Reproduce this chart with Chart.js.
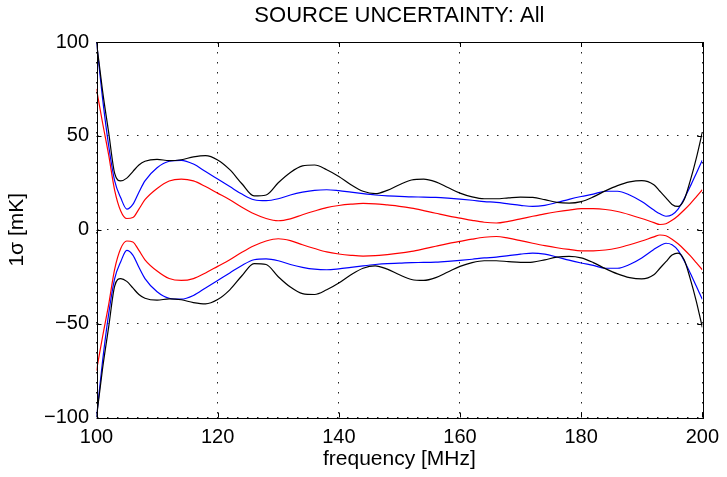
<!DOCTYPE html>
<html>
<head>
<meta charset="utf-8">
<script src="https://cdn.jsdelivr.net/npm/chart.js@4.4.1/dist/chart.umd.min.js"></script>
<style>
  html, body { margin: 0; padding: 0; background: #fff; }
  #wrap { width: 727px; height: 477px; position: relative; }
</style>
</head>
<body>
<div id="wrap"><canvas id="sigmaChart"></canvas></div>
<script>
// frequency grid [MHz]
const freq = [100, 101, 102, 103, 104, 105, 106, 107,
  108, 110, 112, 114, 116, 118, 120, 122, 124, 126,
  128, 130, 132, 134, 136, 138, 140, 142, 144, 146,
  148, 150, 152, 154, 156, 158, 160, 162, 164, 166,
  168, 170, 172, 174, 176, 178, 180, 182, 184, 186,
  188, 190, 192,
  193, 194, 195, 196, 197, 198, 199, 200];

// upper envelope (+1 sigma) in mK
const blackSigma = [100, 74, 52, 30, 26, 27.5, 31, 34.5,
  36.5, 37.5, 36.8, 37.3, 38.8, 39.5, 37.2, 32, 24.5, 18,
  18.5, 25, 30.5, 34, 34.5, 32, 28.4, 24, 20.5, 19.2,
  21, 24, 26.5, 27, 25.5, 22.5, 19.5, 17.5, 16.5, 16.5,
  17, 17.4, 17.2, 16, 14.6, 14.2, 15, 17.5, 20.7, 23.5,
  25.5, 26.2, 24,
  20.5, 17, 13.5, 12.4, 16, 26, 38, 52];

const blueSigma = [100, 70, 45, 26, 17, 11, 13.5, 20,
  26, 33, 36.5, 37, 35, 31, 27, 23, 19, 16,
  15.5, 16.5, 18.5, 20, 21, 21.3, 20.8, 20, 19.2, 18.5,
  18, 17.8, 17.5, 17.4, 17.2, 16.8, 16.3, 15.7, 15, 14.6,
  13.8, 13, 12.4, 13, 14.5, 16.2, 17.7, 19, 20.5, 20.5,
  18.5, 15, 10.5,
  8.5, 7.2, 8, 11, 16.5, 23, 30, 37];

const redSigma = [75, 57, 40, 21, 10, 6, 6.5, 11,
  16, 22, 26, 27, 26, 23, 19.5, 16, 12, 8.5,
  6, 4.8, 5.8, 8, 10, 11.8, 12.9, 13.6, 14, 13.8,
  13.2, 12.5, 11.5, 10.2, 8.8, 7.4, 6.2, 5, 4, 3.6,
  4.5, 5.8, 7.2, 8.5, 9.6, 10.5, 11.2, 11.2, 10.8, 9.7,
  8, 6, 3.8,
  2.8, 3.2, 5, 7.5, 10.5, 13.8, 17.5, 21.3];

const xTicks = [100, 120, 140, 160, 180, 200];
const yTicks = [-100, -50, 0, 50, 100];

const FONT = '"Liberation Sans", Arial, Helvetica, sans-serif';

// +sigma and the mirrored -sigma curve
const toPoints = (vals, sign) => freq.map((f, i) => ({ x: f, y: sign * vals[i] }));

const lineSet = (vals, sign, color) => ({
    data: toPoints(vals, sign),
    borderColor: color,
    borderWidth: 1.2,
    pointRadius: 0,
    fill: false,
    cubicInterpolationMode: 'monotone'
});

// MATLAB style box with inward ticks
const boxPlugin = {
    id: 'boxFrame',
    afterDatasetsDraw(chart) {
        const { ctx, chartArea: a, scales } = chart;
        const tl = 5;
        ctx.save();
        ctx.strokeStyle = '#000';
        ctx.lineWidth = 1;
        ctx.beginPath();
        xTicks.forEach(v => {
            const px = Math.round(scales.x.getPixelForValue(v)) + 0.5;
            ctx.moveTo(px, a.bottom); ctx.lineTo(px, a.bottom - tl);
            ctx.moveTo(px, a.top); ctx.lineTo(px, a.top + tl);
        });
        yTicks.forEach(v => {
            const py = Math.round(scales.y.getPixelForValue(v)) + 0.5;
            ctx.moveTo(a.left, py); ctx.lineTo(a.left + tl, py);
            ctx.moveTo(a.right, py); ctx.lineTo(a.right - tl, py);
        });
        ctx.stroke();
        ctx.strokeRect(Math.round(a.left) + 0.5, Math.round(a.top) + 0.5,
            Math.round(a.right - a.left), Math.round(a.bottom - a.top));
        ctx.restore();
    }
};

const ctx = document.getElementById('sigmaChart').getContext('2d');
new Chart(ctx, {
    type: 'line',
    data: {
        datasets: [
            lineSet(blackSigma, 1, '#000000'),
            lineSet(blackSigma, -1, '#000000'),
            lineSet(blueSigma, 1, '#0000ff'),
            lineSet(blueSigma, -1, '#0000ff'),
            lineSet(redSigma, 1, '#ff0000'),
            lineSet(redSigma, -1, '#ff0000')
        ]
    },
    options: {
        responsive: true,
        maintainAspectRatio: false,
        animation: false,
        layout: { padding: { left: 0, right: 22, top: 0, bottom: 0 } },
        plugins: {
            legend: { display: false },
            tooltip: { enabled: false },
            title: {
                display: true,
                text: 'SOURCE UNCERTAINTY: All',
                color: '#000',
                fullSize: false,
                font: { family: FONT, size: 22, weight: 'normal' },
                padding: { top: 3, bottom: 12.6 }
            }
        },
        scales: {
            x: {
                type: 'linear',
                min: 100,
                max: 200,
                afterFit: s => { s.height = 59.5; },
                afterBuildTicks: s => { s.ticks = xTicks.map(v => ({ value: v })); },
                ticks: { color: '#000', padding: 8, font: { family: FONT, size: 20 } },
                grid: { color: '#222', lineWidth: 1, drawTicks: false },
                border: { display: false, dash: [1.5, 8.5] },
                title: {
                    display: true,
                    text: 'frequency [MHz]',
                    color: '#000',
                    font: { family: FONT, size: 21 },
                    padding: { top: 0, bottom: 5 }
                }
            },
            y: {
                min: -100,
                max: 100,
                afterFit: s => { s.width = 96.5; },
                afterBuildTicks: s => { s.ticks = yTicks.map(v => ({ value: v })); },
                ticks: {
                    color: '#000',
                    padding: 7.5,
                    font: { family: FONT, size: 20 },
                    callback: v => String(v).replace('-', '\u2212')
                },
                grid: { color: '#222', lineWidth: 1, drawTicks: false },
                border: { display: false, dash: [1.5, 8.5] },
                title: {
                    display: true,
                    text: '1\u03c3 [mK]',
                    color: '#000',
                    font: { family: FONT, size: 21 },
                    padding: { top: 4.5, bottom: 0 }
                }
            }
        }
    },
    plugins: [boxPlugin]
});
</script>
</body>
</html>
